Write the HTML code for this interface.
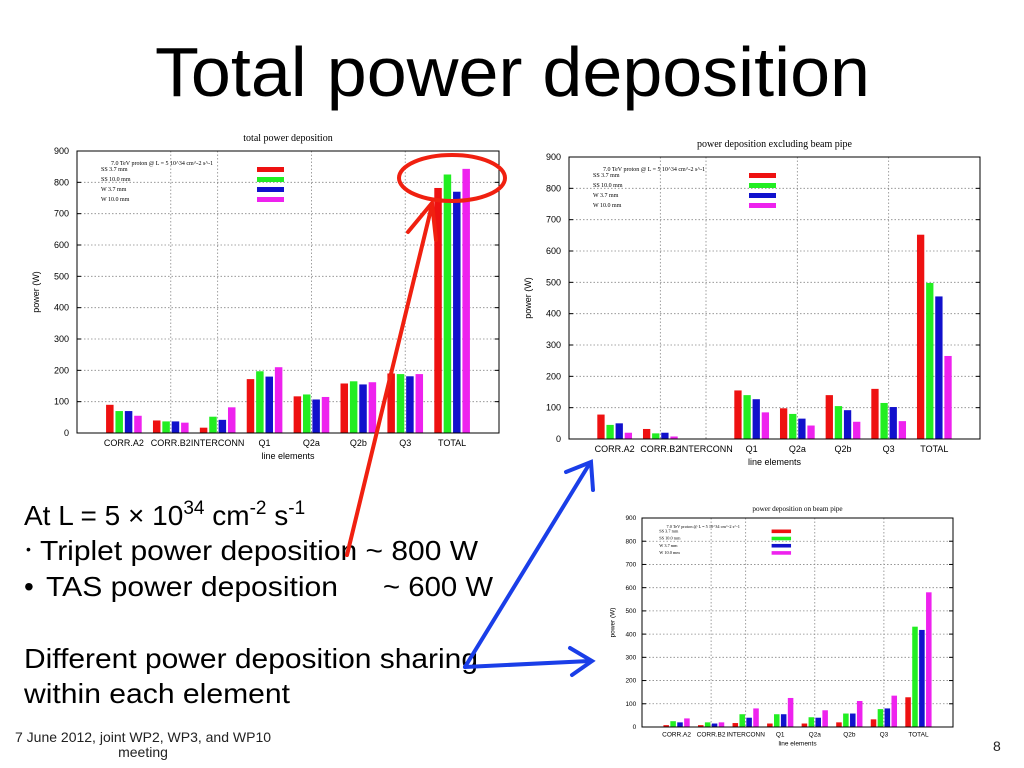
<!DOCTYPE html>
<html><head><meta charset="utf-8"><style>
html,body{margin:0;padding:0;background:#fff;}
svg{display:block;font-family:"Liberation Sans",sans-serif;}
</style></head><body>
<svg id="s" width="1024" height="768" viewBox="0 0 1024 768">
<text x="155" y="96" textLength="715" lengthAdjust="spacingAndGlyphs" font-size="70" fill="#000">Total power deposition</text>
<g id="c1"></g>
<g id="c2"></g>
<g id="c3"></g>
<g font-size="28" fill="#000">
<text x="24" y="525">At L = 5 × 10<tspan dy="-11" font-size="19">34</tspan><tspan dy="11"> cm</tspan><tspan dy="-11" font-size="19">-2</tspan><tspan dy="11"> s</tspan><tspan dy="-11" font-size="19">-1</tspan></text>
<text x="26" y="554" font-size="14">•</text>
<text x="40" y="560" textLength="438" lengthAdjust="spacingAndGlyphs">Triplet power deposition ~ 800 W</text>
<text x="24" y="596">•</text>
<text x="46" y="596" textLength="292" lengthAdjust="spacingAndGlyphs">TAS power deposition</text>
<text x="383" y="596" textLength="110" lengthAdjust="spacingAndGlyphs">~ 600 W</text>
<text x="24" y="668" textLength="454" lengthAdjust="spacingAndGlyphs">Different power deposition sharing</text>
<text x="24" y="703" textLength="266" lengthAdjust="spacingAndGlyphs">within each element</text>
</g>
<text x="143" y="742" text-anchor="middle" font-size="14" fill="#222">7 June 2012, joint WP2, WP3, and WP10</text>
<text x="143" y="757" text-anchor="middle" font-size="14" fill="#222">meeting</text>
<text x="993" y="751" font-size="14" fill="#222">8</text>
<g stroke="#f02010" fill="none" stroke-linecap="round">
<ellipse cx="452" cy="178" rx="53" ry="23" stroke-width="4"/>
<line x1="347" y1="555" x2="432" y2="205" stroke-width="4"/>
<path d="M408,232 L432,203 L436,240" stroke-width="4"/>
</g>
<g stroke="#1a3ee8" fill="none" stroke-width="4" stroke-linecap="round">
<line x1="465" y1="667" x2="590" y2="463"/>
<path d="M566,472 L591,462 L593,490"/>
<line x1="465" y1="667" x2="590" y2="661"/>
<path d="M570,648 L592,661 L572,675"/>
</g>
</svg>
<script>
var categories = ["CORR.A2","CORR.B2","INTERCONN","Q1","Q2a","Q2b","Q3","TOTAL"];
var seriesNames = ["SS  3.7 mm","SS  10.0 mm","W   3.7 mm","W   10.0 mm"];
var yTicks = [0,100,200,300,400,500,600,700,800,900];
var total_ss37  = [90,40,17,172,117,158,190,782];
var total_ss100 = [70,37,52,197,123,165,188,825];
var total_w37   = [70,37,42,180,107,155,181,770];
var total_w100  = [55,33,82,210,115,162,188,843];
var excl_ss37  = [78,32,0,155,98,140,160,652];
var excl_ss100 = [45,18,0,140,80,105,115,498];
var excl_w37   = [50,20,0,127,65,92,102,455];
var excl_w100  = [20,8,0,85,43,55,57,265];
var pipe_ss37  = [8,8,17,15,15,20,33,128];
var pipe_ss100 = [25,20,55,55,42,58,77,432];
var pipe_w37   = [20,15,40,55,40,58,80,418];
var pipe_w100  = [37,20,80,125,72,112,135,580];
var colors = ["#ee1111","#22ee22","#1111cc","#ee22ee"];
var NS="http://www.w3.org/2000/svg";
function mk(p,t,a){var e=document.createElementNS(NS,t);for(var k in a)e.setAttribute(k,a[k]);p.appendChild(e);return e;}
function chart(id,box,title,series,k){
 var g=document.getElementById(id);
 var L=box.l,R=box.r,T=box.t,B=box.b;
 function xs(i){return L+(i+1)*(R-L)/9;}
 function ys(v){return B-(v/900)*(B-T);}
 var fs=9*k;
 var t=mk(g,'text',{x:(L+R)/2,y:T-10*k,'text-anchor':'middle','font-size':10*k,'font-family':'Liberation Serif, serif'});t.textContent=title;
 
 
 yTicks.forEach(function(v){
  if(v>0&&v<900){var gl=mk(g,'line',{x1:L,x2:R,y1:ys(v),y2:ys(v),stroke:'#888','stroke-width':0.8,'stroke-dasharray':'1.5,2'});
  
  }
  var tl=mk(g,'text',{x:L-8*k,y:ys(v)+3*k,'text-anchor':'end','font-size':fs});tl.textContent=v;
  
  
  mk(g,'line',{x1:L,x2:L+4,y1:ys(v),y2:ys(v),stroke:'#000'});
  mk(g,'line',{x1:R,x2:R-4,y1:ys(v),y2:ys(v),stroke:'#000'});
 });
 [1,2,4,6].forEach(function(i){var vl=mk(g,'line',{x1:xs(i),x2:xs(i),y1:T,y2:B,stroke:'#888','stroke-width':0.8,'stroke-dasharray':'1.5,2'});
  
  });
 var bw=(R-L)/9*0.16, step=(R-L)/9*0.2;
 categories.forEach(function(c,i){
  series.forEach(function(s,j){
   var x=xs(i)+(j-1.5)*step-bw/2;
   if(s[i]>0){var r=mk(g,'rect',{x:x,y:ys(s[i]),width:bw,height:B-ys(s[i]),fill:colors[j]});
   
   }
  });
  var xl=mk(g,'text',{x:xs(i),y:B+13*k,'text-anchor':'middle','font-size':fs});xl.textContent=c;
  
  
 });
 var fr=mk(g,'rect',{x:L,y:T,width:R-L,height:B-T,fill:'none',stroke:'#000','stroke-width':1});
 
 
 var xt=mk(g,'text',{x:(L+R)/2,y:B+26*k,'text-anchor':'middle','font-size':fs});xt.textContent='line elements';
 
 
 var yt=mk(g,'text',{x:0,y:0,'text-anchor':'middle','font-size':fs,transform:'translate('+(L-38*k)+','+((T+B)/2)+') rotate(-90)'});yt.textContent='power (W)';
 
 
 var lg=mk(g,'g',{'font-family':'Liberation Serif, serif','font-size':6*k});
 
 
 var lx=L+24*k, ly=T+20*k;
 var lt=mk(lg,'text',{x:lx+10*k,y:ly-6*k});lt.textContent='7.0 TeV proton @ L = 5 10^34 cm^-2 s^-1';
 seriesNames.forEach(function(n,j){
  var e=mk(lg,'text',{x:lx,y:ly+j*10*k});e.textContent=n;
  
  
  mk(lg,'rect',{x:L+180*k,y:ly-4*k+j*10*k,width:27*k,height:5*k,fill:colors[j]});
 });
}
chart('c1',{l:77,r:499,t:151,b:433},'total power deposition',[total_ss37,total_ss100,total_w37,total_w100],1);
chart('c2',{l:569,r:980,t:157,b:439},'power deposition excluding beam pipe',[excl_ss37,excl_ss100,excl_w37,excl_w100],1);
chart('c3',{l:642,r:953,t:518,b:727},'power deposition on beam pipe',[pipe_ss37,pipe_ss100,pipe_w37,pipe_w100],0.72);
</script>
</body></html>
